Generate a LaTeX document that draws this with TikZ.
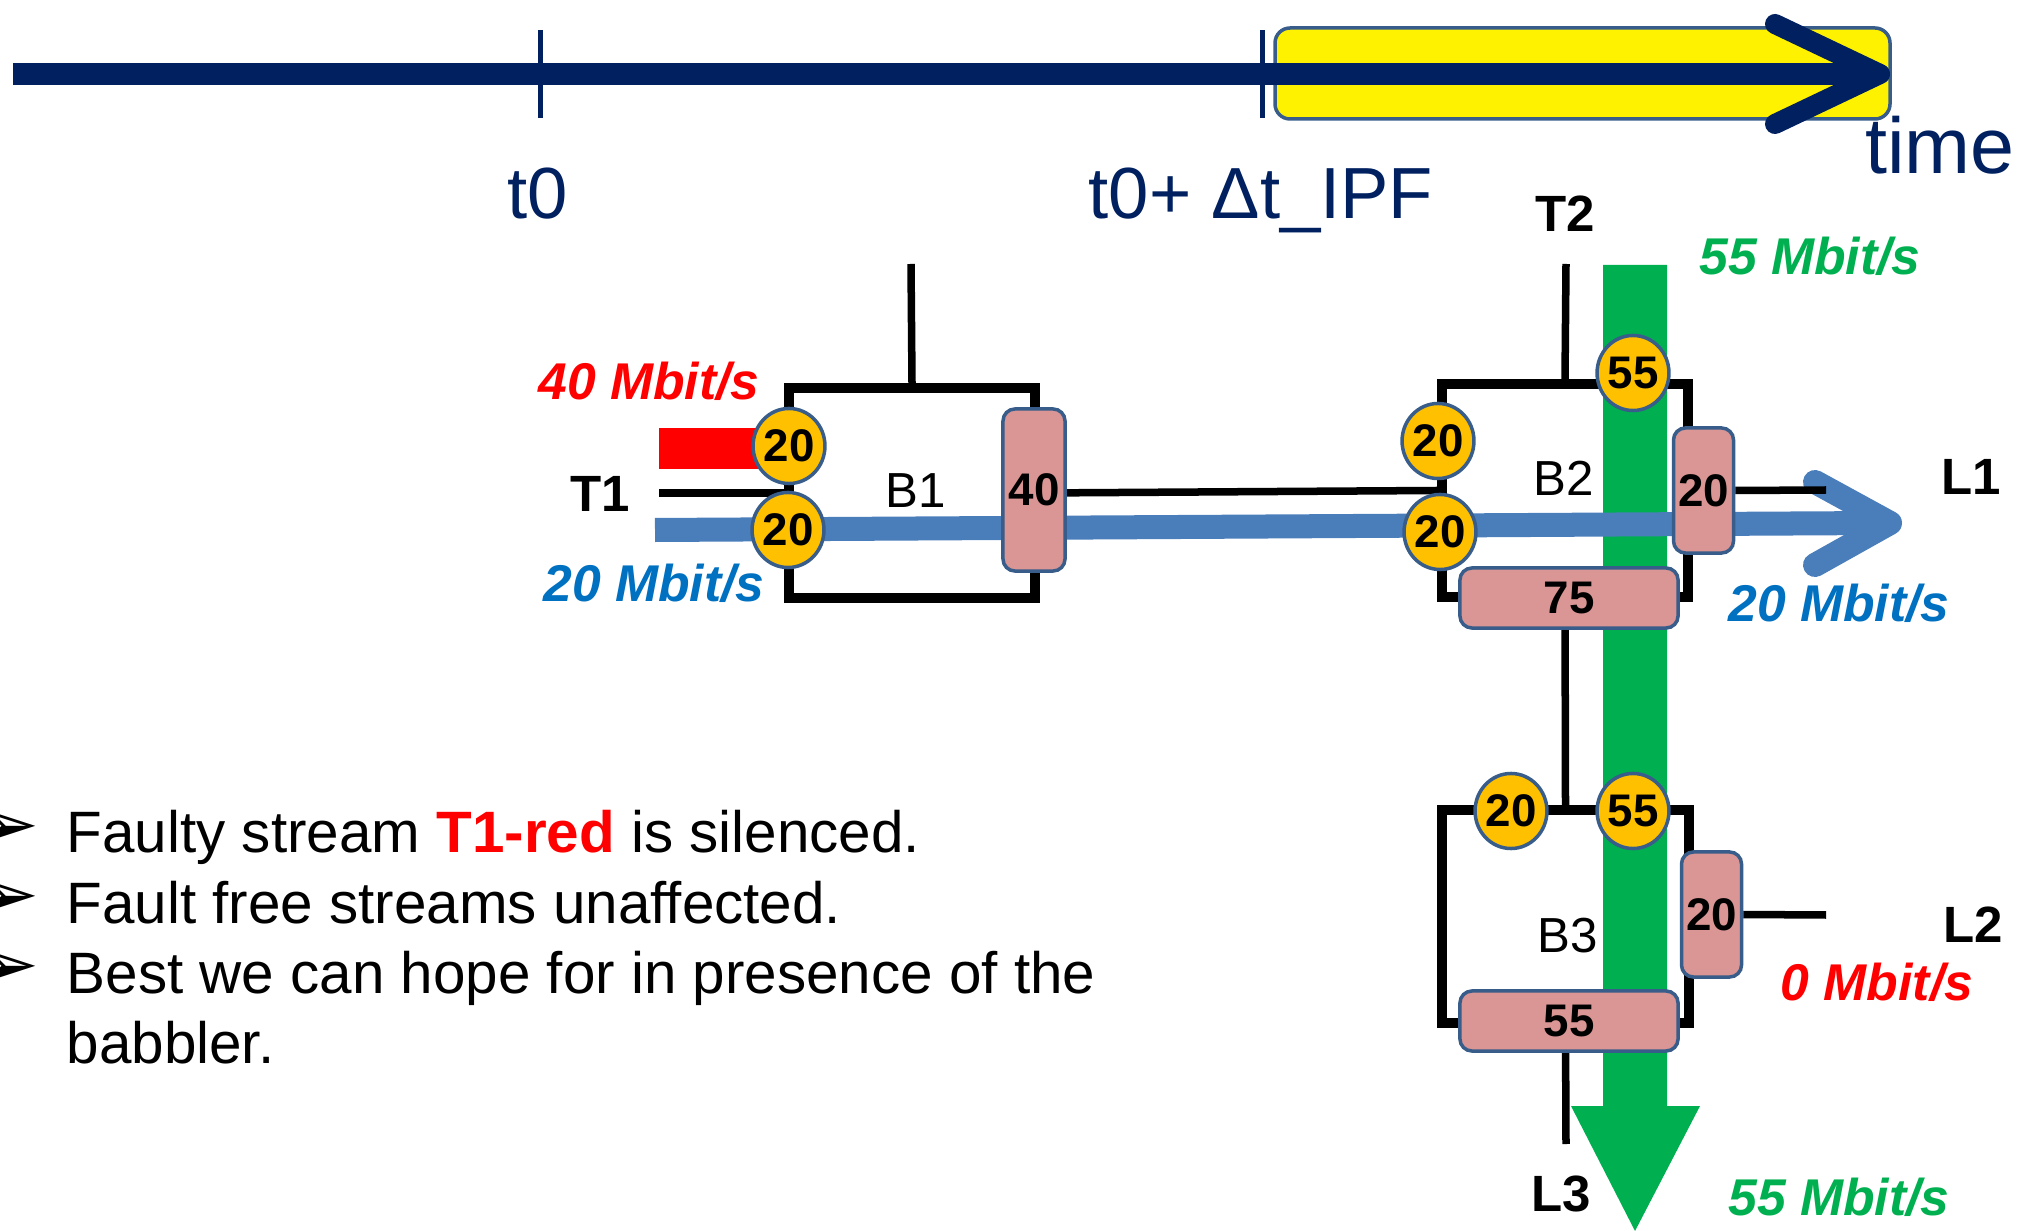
\documentclass[tikz,border=0pt]{standalone}
\usepackage{fontspec}
\setmainfont{Liberation Sans}
\newfontfamily\symfont{DejaVu Sans}
\usetikzlibrary{shapes.geometric}
\definecolor{navy}{HTML}{002060}
\definecolor{rim}{HTML}{385D8A}
\definecolor{gold}{HTML}{FFC000}
\definecolor{rose}{HTML}{D99694}
\definecolor{bluebar}{HTML}{4A7EBB}
\definecolor{bluetext}{HTML}{0070C0}
\definecolor{grn}{HTML}{00B050}
\begin{document}
\begin{tikzpicture}[x=0.01cm, y=-0.01cm,
    wire/.style={line width=0.75mm},
    br/.style={draw, line width=1mm, inner sep=0pt},
    gate/.style={ellipse, draw=rim, fill=gold, line width=0.35mm, minimum width=0.64cm,
        minimum height=0.75cm, inner sep=0pt, font=\bfseries\fontsize{13}{15}\selectfont},
    buf/.style={rectangle, rounded corners=1.2mm, draw=rim, fill=rose, line width=0.35mm,
        inner sep=0pt, font=\bfseries\fontsize{13}{15}\selectfont},
    bufv/.style={buf, minimum width=0.6cm, minimum height=1.25cm},
    bufh/.style={buf, minimum width=2.18cm, minimum height=0.6cm},
    lb/.style={anchor=base, inner sep=0pt, font=\bfseries\fontsize{14.5}{17}\selectfont},
    bn/.style={anchor=base, inner sep=0pt, font=\fontsize{14}{16}\selectfont},
    rate/.style={anchor=base, inner sep=0pt, font=\bfseries\itshape\fontsize{14.7}{17}\selectfont},
    tl/.style={anchor=base, inner sep=0pt, text=navy, font=\fontsize{20.6}{24}\selectfont},
    note/.style={anchor=base west, inner sep=0pt, font=\fontsize{16.6}{20}\selectfont},
    tip/.style={anchor=east, inner sep=0pt, font=\symfont\fontsize{21}{21}\selectfont}]
    \useasboundingbox (0,0) rectangle (2024,1231);
    % Zeitachse
    \draw[rim, fill=yellow, line width=0.35mm, rounded corners=1.5mm] (1275,28) rectangle (1890,119);
    \draw[navy, line width=2.2mm] (13,74) -- (1878,74);
    \foreach \x in {540,1262} {\draw[navy, line width=0.5mm] (\x,30) -- (\x,118);}
    \draw[navy, line width=2mm, line cap=round, line join=round] (1775,24) -- (1880,74) -- (1775,124);
    \node[tl] (t0) at (538,219) {t0};
    \node[tl] (t0ipf) at (1261,219) {t0+ Δt\_IPF};
    \node[tl, font=\fontsize{22.5}{26}\selectfont] (time) at (1940,174) {time};

    % Stroeme
    \fill[red] (659,428) rectangle (815,469);
    \fill[grn] (1603,265) -- (1667,265) -- (1667,1106) -- (1700,1106) -- (1635,1231)
        -- (1571,1106) -- (1603,1106) -- cycle;
    \draw[bluebar, line width=2.4mm] (655,530) -- (1880,523);
    \draw[bluebar, line width=2.4mm, line cap=round, line join=round] (1815,482) -- (1890,523) -- (1815,565);

    % Bruecken
    \node[br, minimum width=2.46cm, minimum height=2.1cm] (b1) at (912,493) {};
    \node[br, minimum width=2.46cm, minimum height=2.13cm] (b2) at (1565,490.5) {};
    \node[br, minimum width=2.47cm, minimum height=2.13cm] (b3) at (1565.5,916.5) {};
    \node[bn] (b1n) at (916,508) {B1};
    \node[bn] (b2n) at (1564,496) {B2};
    \node[bn] (b3n) at (1568,952) {B3};

    % Leitungen
    \coordinate (t1e) at (659,493);
    \coordinate (b1up) at (911,264);
    \coordinate (t2e) at (1566,264);
    \coordinate (l1e) at (1826,490);
    \coordinate (l2e) at (1826,915);
    \coordinate (l3e) at (1566,1144);
    \draw[wire] (t1e) -- (b1.west);
    \draw[wire] (b1up) -- (b1.north);
    \draw[wire] (t2e) -- (b2.north);
    \draw[wire] (b1.east) -- (b2.west);
    \draw[wire] (b2.south) -- (b3.north);
    \draw[wire] (b3.south) -- (l3e);

    % Puffer
    \node[buf, minimum width=0.62cm, minimum height=1.62cm] (q40) at (1034,490) {40};
    \node[bufv] (q20a) at (1703.5,490.5) {20};
    \node[bufh] (q75) at (1569,598) {75};
    \node[bufv] (q20b) at (1711.5,914.5) {20};
    \node[bufh] (q55) at (1569,1021) {55};
    \draw[wire] (q20a.east) -- (l1e);
    \draw[wire] (q20b.east) -- (l2e);

    % Tore
    \node[gate] (gr) at (789,446) {20};
    \node[gate] (gb) at (788,530) {20};
    \node[gate] (g2a) at (1438,441) {20};
    \node[gate] (g2b) at (1440,532) {20};
    \node[gate] (g2c) at (1633,373) {55};
    \node[gate] (g3a) at (1511,811) {20};
    \node[gate] (g3b) at (1633,811) {55};

    % Beschriftung
    \node[lb] (t1) at (600,512) {T1};
    \node[lb] (t2) at (1565,232) {T2};
    \node[lb] (l1) at (1971,495) {L1};
    \node[lb] (l2) at (1973,942) {L2};
    \node[lb] (l3) at (1561,1211) {L3};
    \node[rate, text=red] (r40) at (649,400) {40 Mbit/s};
    \node[rate, text=bluetext] (r20a) at (654,602) {20 Mbit/s};
    \node[rate, text=grn] (r55a) at (1810,275) {55 Mbit/s};
    \node[rate, text=bluetext] (r20b) at (1839,622) {20 Mbit/s};
    \node[rate, text=red] (r0) at (1877,1000) {0 Mbit/s};
    \node[rate, text=grn] (r55b) at (1839,1215) {55 Mbit/s};

    % Stichpunkte
    \foreach \t [count=\i from 0] in {{Faulty stream \textcolor{red}{\bfseries T1-red} is silenced.},
        {Fault free streams unaffected.}, {Best we can hope for in presence of the}}
        {\node[note] (n\i) at (66,853+70*\i) {\t}; \node[tip] (p\i) at (40,830+70*\i) {➢};}
    \node[note] (n3) at (66,1063) {babbler.};
\end{tikzpicture}
\end{document}
